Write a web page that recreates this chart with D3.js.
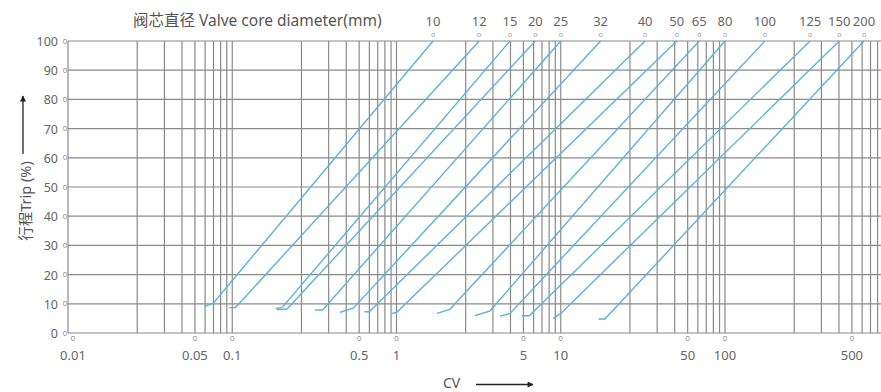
<!DOCTYPE html>
<html>
<head>
<meta charset="utf-8">
<script src="https://cdn.jsdelivr.net/npm/d3@7"></script>
<style>
  html, body { margin: 0; padding: 0; background: #fff; }
  svg { display: block; font-family: "Noto Sans", "Noto Sans CJK SC", sans-serif; }
</style>
</head>
<body>
<svg id="chart" width="881" height="392"></svg>
<script>
// ---- data ----
const diameters   = [10, 12, 15, 20, 25, 32, 40, 50, 65, 80, 100, 125, 150, 200];
const cvStart     = [0.059, 0.0944, 0.144, 0.146, 0.243, 0.360, 0.548, 0.911, 1.39, 2.28, 3.36, 4.85, 8.66, 13.5];
const travelStart = [9.0, 8.7, 8.4, 8.0, 7.9, 7.1, 7.3, 6.7, 6.7, 5.9, 5.8, 5.9, 5.0, 4.8];
const cvKink      = [0.0697, 0.101, 0.155, 0.165, 0.273, 0.451, 0.599, 1.00, 1.62, 2.87, 3.97, 5.55, 10.0, 14.5];
const travelKink  = [10.2, 8.7, 8.7, 8.2, 7.9, 8.5, 7.3, 7.0, 8.1, 7.6, 6.7, 5.9, 6.7, 4.8];
const cvRated     = [1.33, 2.43, 3.97, 6.19, 10.0, 13.8, 24.9, 41.4, 61.6, 100, 138, 252, 402, 621];
const travelRated = 100;
const xTickLabels = [0.01, 0.05, 0.1, 0.5, 1, 5, 10, 50, 100, 500];
const yTickLabels = [0, 10, 20, 30, 40, 50, 60, 70, 80, 90, 100];
const titleText = "阀芯直径 Valve core diameter(mm)";
const yTitle = "行程Trip (%)";
const xTitle = "CV";

// ---- scales ----
const W = 881, H = 392;
const svg = d3.select("#chart");
// chart paper uses a compressed log spacing inside each decade
const warp = v => {
  const L = Math.log10(v);
  const k = Math.floor(L + 1e-9);
  const f = Math.max(0, L - k);
  return k + Math.pow(f, 0.72);
};
const xLin = d3.scaleLinear().domain([-2, 2]).range([68, 725]);
const x = v => xLin(warp(v));
const y = d3.scaleLinear().domain([0, 100]).range([333, 41]);

const gridColor = "#8a8a8a";
const textColor = "#666";

// ---- grid ----
const gridValues = d3.scaleLog().domain([0.01, 1000]).ticks();
svg.append("g").selectAll("line").data(gridValues).join("line")
  .attr("x1", d => x(d)).attr("x2", d => x(d))
  .attr("y1", y(0)).attr("y2", y(100))
  .attr("stroke", gridColor).attr("stroke-width", 1.2);

svg.append("g").selectAll("line").data(yTickLabels).join("line")
  .attr("x1", x(0.01)).attr("x2", W)
  .attr("y1", d => y(d)).attr("y2", d => y(d))
  .attr("stroke", gridColor).attr("stroke-width", 1.2);

// ---- y tick labels ----
const yt = svg.append("g");
yt.selectAll("text.lab").data(yTickLabels).join("text")
  .attr("class", "lab")
  .attr("x", x(0.01) - 10).attr("y", d => y(d) + 5)
  .attr("text-anchor", "end").attr("font-size", 12.5).attr("fill", textColor)
  .text(d => d);
yt.selectAll("text.o").data(yTickLabels).join("text")
  .attr("class", "o")
  .attr("x", x(0.01) - 3).attr("y", d => y(d) + 2.5)
  .attr("text-anchor", "middle").attr("font-size", 8).attr("fill", "#999")
  .text("o");

// ---- x tick labels ----
const xt = svg.append("g");
xt.selectAll("text.lab").data(xTickLabels).join("text")
  .attr("class", "lab")
  .attr("x", d => x(d) + (d === 0.01 ? 5 : 0)).attr("y", y(0) + 27)
  .attr("text-anchor", "middle").attr("font-size", 13).attr("fill", textColor)
  .text(d => d);
xt.selectAll("text.o").data(xTickLabels).join("text")
  .attr("class", "o")
  .attr("x", d => x(d) + (d === 0.01 ? 5 : 0)).attr("y", y(0) + 8)
  .attr("text-anchor", "middle").attr("font-size", 8).attr("fill", "#999")
  .text("o");

// ---- top diameter labels ----
const tt = svg.append("g");
tt.selectAll("text.lab").data(diameters).join("text")
  .attr("class", "lab")
  .attr("x", (d, i) => x(cvRated[i])).attr("y", 25.5)
  .attr("text-anchor", "middle").attr("font-size", 13).attr("fill", textColor)
  .text(d => d);
tt.selectAll("text.o").data(diameters).join("text")
  .attr("class", "o")
  .attr("x", (d, i) => x(cvRated[i])).attr("y", 36.5)
  .attr("text-anchor", "middle").attr("font-size", 7).attr("fill", "#999")
  .text("o");

svg.append("text")
  .attr("x", 133).attr("y", 25.5)
  .attr("font-size", 15.5).attr("fill", "#555")
  .text(titleText);

// ---- curves ----
const line = d3.line().x(p => x(p[0])).y(p => y(p[1]));
const curves = diameters.map((d, i) => [
  [cvStart[i], travelStart[i]],
  [cvKink[i], travelKink[i]],
  [cvRated[i], travelRated]
]);
svg.append("g").selectAll("path").data(curves).join("path")
  .attr("d", line)
  .attr("fill", "none").attr("stroke", "#5bb3d6").attr("stroke-width", 1.4);

// ---- axis titles with arrows ----
const defs = svg.append("defs");
defs.append("marker").attr("id", "arr")
  .attr("viewBox", "0 0 10 10").attr("refX", 9).attr("refY", 5)
  .attr("markerWidth", 9).attr("markerHeight", 6).attr("orient", "auto")
  .attr("markerUnits", "userSpaceOnUse")
  .append("path").attr("d", "M0,0 L10,5 L0,10 Z").attr("fill", "#222");

svg.append("text")
  .attr("x", 443).attr("y", 388)
  .attr("font-size", 14).attr("fill", "#555")
  .text(xTitle);
svg.append("line")
  .attr("x1", 476).attr("x2", 533).attr("y1", 384.5).attr("y2", 384.5)
  .attr("stroke", "#222").attr("stroke-width", 1.3)
  .attr("marker-end", "url(#arr)");

svg.append("text")
  .attr("transform", "translate(31,201) rotate(-90)")
  .attr("text-anchor", "middle")
  .attr("font-size", 14.5).attr("fill", "#555")
  .text(yTitle);
svg.append("line")
  .attr("x1", 23).attr("x2", 23).attr("y1", 154).attr("y2", 96)
  .attr("stroke", "#222").attr("stroke-width", 1.3)
  .attr("marker-end", "url(#arr)");
</script>
</body>
</html>
